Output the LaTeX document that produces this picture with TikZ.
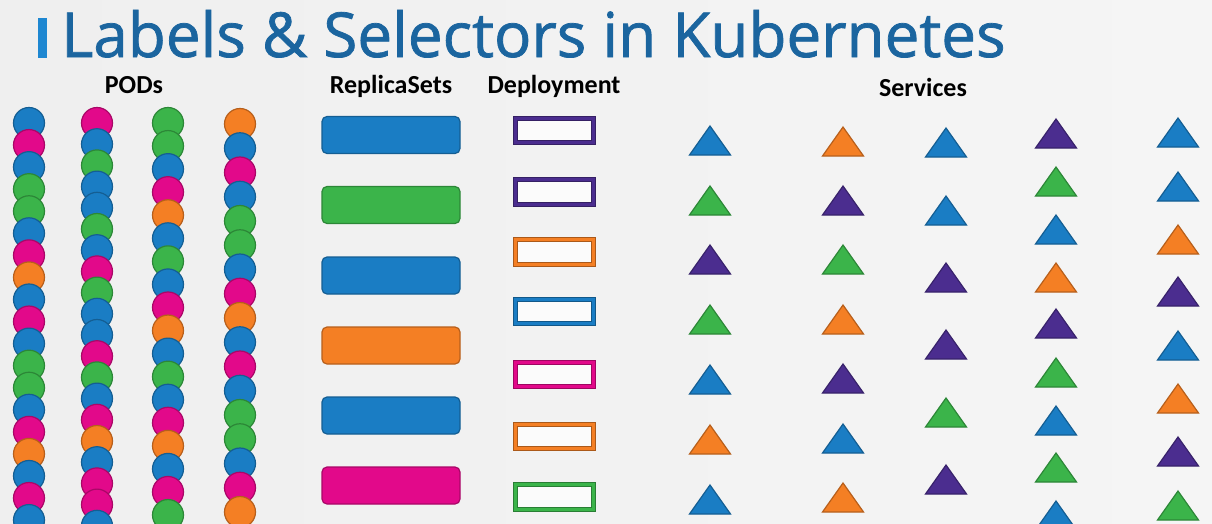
\documentclass[tikz,border=0pt]{standalone}
\usepackage{fontspec}
\setmainfont{Open Sans}
\newfontface\titlefont[FakeBold=1.2]{Open Sans}
\newfontfamily\labelfont{Carlito}
\usepackage{tikz}
\usetikzlibrary{positioning}

\definecolor{blu}{HTML}{1A7DC4}
\definecolor{pnk}{HTML}{E2098A}
\definecolor{grn}{HTML}{3BB44A}
\definecolor{org}{HTML}{F47F24}
\definecolor{prp}{HTML}{4B2D8F}
\definecolor{titleblue}{HTML}{1B659F}
\definecolor{barblue}{HTML}{1E87D1}
\definecolor{bgleft}{HTML}{EFEFEF}
\definecolor{bgright}{HTML}{F5F5F5}

\tikzset{
    pod/.style={
        circle,
        draw=#1!75!black,
        fill=#1,
        line width=1.2pt,
        minimum size=31pt,
        inner sep=0pt
    },
    rsbox/.style={
        draw=#1!75!black,
        fill=#1,
        rounded corners=5pt,
        line width=1.2pt,
        minimum width=138pt,
        minimum height=37pt,
        inner sep=0pt
    },
    deploybox/.style={
        draw=#1!70!black,
        double=#1,
        double distance=3pt,
        line width=1pt,
        fill=white!97!gray,
        minimum width=78pt,
        minimum height=24.5pt,
        inner sep=0pt
    },
    svc/.style={
        draw=#1!75!black,
        fill=#1,
        line width=1.2pt
    },
    heading/.style={
        font=\labelfont\bfseries\fontsize{26}{26}\selectfont,
        anchor=base,
        inner sep=0pt
    }
}

\begin{document}
\begin{tikzpicture}[x=1pt, y=-1pt]
        \useasboundingbox (0,0) rectangle (1212,523);
        \shade[left color=bgleft, right color=bgright] (0,0) rectangle (1212,523);

        % title
        \fill[barblue] (38,18) rectangle (47,58);
        \node[anchor=base west, inner sep=0pt, text=titleblue,
              font=\titlefont\fontsize{62}{62}\selectfont] (title) at (61,57) {Labels \& Selectors in Kubernetes};

        % column headings
        \node[heading] (podshead) at (134,93) {PODs};
        \node[heading] (rshead) at (391,93) {ReplicaSets};
        \node[heading] (dephead) at (554,93) {Deployment};
        \node[heading] (svchead) at (923,96) {Services};

        % pods
        \foreach \c [count=\i] in {blu,pnk,blu,grn,grn,blu,pnk,org,blu,pnk,blu,grn,grn,blu,pnk,org,blu,pnk,blu}
            \node[pod=\c] (podA-\i) at (29,{123+(\i-1)*22.06}) {};
        \foreach \c [count=\i] in {pnk,blu,grn,blu,blu,grn,blu,pnk,grn,blu,blu,pnk,grn,blu,pnk,org,blu,pnk,pnk,blu}
            \node[pod=\c] (podB-\i) at (97,{123+(\i-1)*21.2}) {};
        \foreach \c [count=\i] in {grn,grn,blu,pnk,org,blu,grn,blu,pnk,org,blu,grn,blu,pnk,org,blu,pnk,grn}
            \node[pod=\c] (podC-\i) at (168,{123+(\i-1)*23.06}) {};
        \foreach \c [count=\i] in {org,blu,pnk,blu,grn,grn,blu,pnk,org,blu,pnk,blu,grn,grn,blu,pnk,org}
            \node[pod=\c] (podD-\i) at (240,{124+(\i-1)*24.25}) {};

        % replicasets
        \foreach \y/\c [count=\i] in {135/blu,205/grn,275.5/blu,345.5/org,415.5/blu,485.5/pnk}
            \node[rsbox=\c] (rs\i) at (391,\y) {};

        % deployments
        \foreach \y/\c [count=\i] in {130.5/prp,192/prp,252/org,311.5/blu,374.5/pnk,436.5/org,497/grn}
            \node[deploybox=\c] (dep\i) at (554.5,\y) {};

        % services
        \foreach \y/\c in {126/blu,186/grn,245/prp,305/grn,365/blu,425/org,485/blu}
            \path[svc=\c] (710,\y) -- ++(20.5,29) -- ++(-41,0) -- cycle;
        \foreach \y/\c in {127/org,186/prp,245/grn,305/org,364/prp,424/blu,483/org}
            \path[svc=\c] (843,\y) -- ++(20.5,29) -- ++(-41,0) -- cycle;
        \foreach \y/\c in {128/blu,196/blu,263/prp,330/prp,398/grn,465/prp}
            \path[svc=\c] (946,\y) -- ++(20.5,29) -- ++(-41,0) -- cycle;
        \foreach \y/\c in {119/prp,167/grn,215/blu,263/org,309/prp,358/grn,406/blu,453/grn,501/blu}
            \path[svc=\c] (1056,\y) -- ++(20.5,29) -- ++(-41,0) -- cycle;
        \foreach \y/\c in {118/blu,172/blu,225/org,277/prp,331/blu,384/org,437/prp,491/grn}
            \path[svc=\c] (1178,\y) -- ++(20.5,29) -- ++(-41,0) -- cycle;
    \end{tikzpicture}
\end{document}
